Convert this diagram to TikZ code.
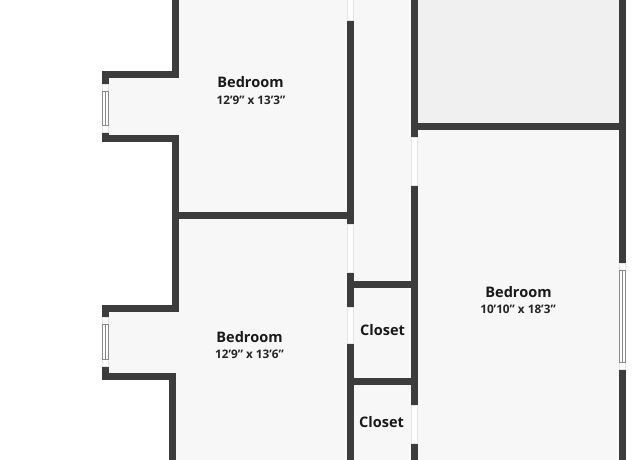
\documentclass[tikz,border=0pt]{standalone}
\usepackage{fontspec}
\setmainfont{Open Sans}[Ligatures=ResetAll]
\tikzset{
  wall/.style={draw=wallgray, line width=7bp},
  doorgap/.style={draw=doorline, fill=white, line width=0.5bp},
  paneline/.style={draw=paneline, line width=0.7bp},
  roomname/.style={font=\bfseries\fontsize{14.6}{16}\selectfont, text=black!90, inner sep=0pt},
  roomsize/.style={font=\fontsize{11.8}{13}\selectfont\bfseries, text=black!85, inner sep=0pt},
}
\definecolor{wallgray}{HTML}{3C3C3C}
\definecolor{floorgray}{HTML}{F7F7F7}
\definecolor{shadegray}{HTML}{F0F0F0}
\definecolor{doorline}{HTML}{E4E4E4}
\definecolor{paneline}{HTML}{8A8A8A}
\begin{document}
\begin{tikzpicture}[x=1bp,y=-1bp]
\useasboundingbox (0,0) rectangle (640,460);
% floor and the shaded room
\fill[floorgray] (175,0) -- (175,75) -- (105,75) -- (105,139) -- (175,139) -- (175,308) -- (105,308) -- (105,376) -- (172,376) -- (172,460) -- (622,460) -- (622,0) -- (175,0);
\fill[shadegray] (414,0) -- (622,0) -- (622,127) -- (414,127) -- (414,0);

% outer walls, left side
\draw[wall] (175,0) -- (175,75) -- (105,75) -- (105,84);
\draw[wall] (105,132) -- (105,139) -- (175,139) -- (175,308) -- (105,308) -- (105,317);
\draw[wall] (105,366) -- (105,376) -- (172,376) -- (172,460);
% right side
\draw[wall] (622,0) -- (622,263);
\draw[wall] (622,369) -- (622,460);

% inner walls
\draw[wall] (175,216) -- (350,216);
\draw[wall] (350,20) -- (350,224);
\draw[wall] (350,272) -- (350,307);
\draw[wall] (350,343) -- (350,460);
\draw[wall] (414,0) -- (414,137);
\draw[wall] (414,185) -- (414,405);
\draw[wall] (414,443) -- (414,460);
\draw[wall] (414,127) -- (622,127);
\draw[wall] (350,285) -- (414,285);
\draw[wall] (350,381) -- (414,381);

% door openings
\draw[doorgap] (347,-1) rectangle (353,20);
\draw[doorgap] (347,224) rectangle (353,272);
\draw[doorgap] (347,307) rectangle (353,343);
\draw[doorgap] (411,137) rectangle (417,185);
\draw[doorgap] (411,405) rectangle (417,443);

% windows
\draw[doorgap] (102,84) rectangle (108,132);
\draw[paneline] (102,91) rectangle (108,125) (105,91) -- (105,125);
\draw[doorgap] (102,317) rectangle (108,366);
\draw[paneline] (102,324) rectangle (108,359) (105,324) -- (105,359);
\draw[doorgap] (619,263) rectangle (625,369);
\draw[paneline] (619,270) rectangle (625,362) (622,270) -- (622,362);

% labels
\node[roomname] (bedroomA) at (250.5,82.5) {Bedroom};
\node[roomsize] (sizeA) at (251,100) {12'9" x 13'3"};
\node[roomname] (bedroomB) at (249.5,337.5) {Bedroom};
\node[roomsize] (sizeB) at (249.5,354) {12'9" x 13'6"};
\node[roomname] (bedroomC) at (518.5,292.5) {Bedroom};
\node[roomsize] (sizeC) at (518,309) {10'10" x 18'3"};
\node[roomname] (closetA) at (382.5,330.5) {Closet};
\node[roomname] (closetB) at (381.5,422.5) {Closet};
\end{tikzpicture}
\end{document}
